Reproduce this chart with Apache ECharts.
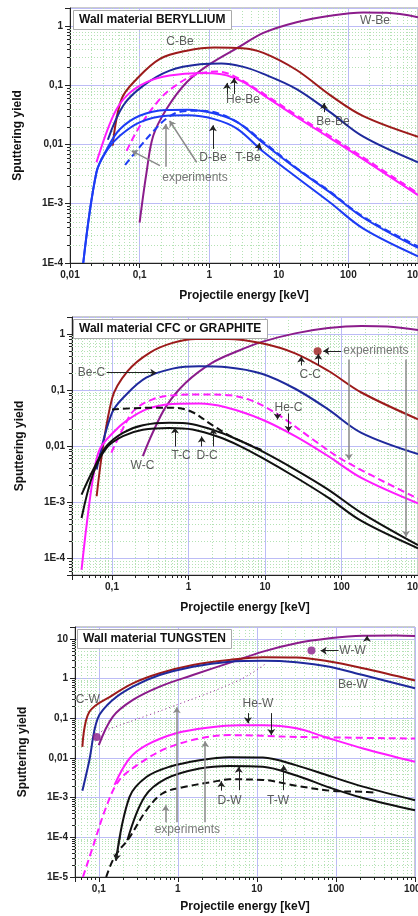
<!DOCTYPE html>
<html>
<head>
<meta charset="utf-8">
<script src="https://cdn.jsdelivr.net/npm/echarts@6/dist/echarts.min.js"></script>
<style>
  html, body { margin: 0; padding: 0; background: #fff; }
  #chart { width: 418px; height: 916px; }
</style>
</head>
<body>
<div id="chart"></div>
<script>
// all curves: [projectile energy keV, sputtering yield]

// --- wall material beryllium ---
var wBe = [[0.1,0.00048],[0.126,0.0034],[0.157,0.014],[0.245,0.04],[0.475,0.112],[1.03,0.228],[2.77,0.45],[6,0.76],[18,1.15],[54.5,1.48],[164,1.68],[355,1.66],[1000,1.4]];
var cBe = [[0.041,0.0095],[0.055,0.058],[0.091,0.127],[0.196,0.277],[0.475,0.38],[1.2,0.43],[3,0.42],[6,0.35],[18,0.18],[54.5,0.068],[164,0.03],[1000,0.0135]];
var beBe = [[0.035,0.012],[0.058,0.045],[0.113,0.098],[0.27,0.176],[0.74,0.225],[1.5,0.232],[3,0.205],[6,0.155],[18,0.086],[54.5,0.035],[164,0.0135],[1000,0.005]];
var heBe = [[0.024,0.005],[0.042,0.031],[0.065,0.066],[0.126,0.112],[0.27,0.145],[0.74,0.16],[1.5,0.152],[3,0.115],[6,0.068],[18,0.029],[54.5,0.0128],[164,0.0056],[1000,0.0014]];
var heBeExp = [[0.065,0.0078],[0.1,0.02],[0.2,0.06],[0.32,0.096],[0.59,0.145],[1.28,0.17],[2.2,0.145],[6,0.072],[18,0.031],[54.5,0.0138],[164,0.006],[1000,0.0015]];
var tBe = [[0.0155,0.0001],[0.024,0.0034],[0.034,0.0084],[0.052,0.018],[0.1,0.0305],[0.245,0.038],[0.5,0.0385],[1.15,0.0335],[2.5,0.024],[6,0.0105],[18,0.0039],[54.5,0.00155],[164,0.00058],[1000,0.00018]];
var dBe = [[0.0155,0.0001],[0.024,0.0034],[0.034,0.008],[0.052,0.014],[0.1,0.0236],[0.245,0.0305],[0.5,0.031],[1.15,0.027],[2.5,0.0185],[6,0.0075],[18,0.0028],[54.5,0.00105],[164,0.00038],[1000,0.00013]];
var tBeExp = [[0.062,0.0045],[0.1,0.009],[0.16,0.017],[0.25,0.028],[0.4,0.036],[0.8,0.037],[1.5,0.032],[3,0.021],[6,0.011],[18,0.004],[54.5,0.0016],[164,0.0006],[1000,0.00019]];

// --- wall material CFC / graphite ---
var wC = [[0.253,0.0066],[0.34,0.0172],[0.51,0.051],[0.92,0.134],[2.05,0.306],[4.5,0.5],[9.1,0.72],[24.8,1.02],[67,1.27],[182,1.38],[400,1.35],[1000,1.17]];
var cC = [[0.063,0.00127],[0.1,0.07],[0.16,0.217],[0.31,0.46],[0.62,0.69],[1.25,0.81],[3.2,0.81],[9.1,0.68],[24.8,0.45],[67,0.22],[182,0.09],[1000,0.03]];
var beC = [[0.063,0.0038],[0.1,0.039],[0.154,0.083],[0.28,0.165],[0.62,0.24],[1.38,0.265],[3.2,0.255],[9.1,0.195],[24.8,0.105],[67,0.045],[182,0.0172],[1000,0.0072]];
var heC = [[0.04,0.000062],[0.047,0.00043],[0.057,0.0029],[0.069,0.0087],[0.103,0.0172],[0.154,0.028],[0.28,0.045],[0.62,0.056],[1.38,0.057],[3.06,0.049],[9.1,0.0297],[24.8,0.015],[67,0.0066],[182,0.0027],[1000,0.00095]];
var heCExp = [[0.098,0.0076],[0.15,0.025],[0.2,0.045],[0.34,0.068],[0.62,0.08],[1.38,0.083],[3.5,0.08],[7,0.063],[15,0.036],[41,0.0135],[110,0.0054],[1000,0.00115]];
var tC = [[0.04,0.00136],[0.057,0.0038],[0.085,0.01],[0.139,0.0172],[0.253,0.0235],[0.56,0.026],[1.13,0.0245],[2.5,0.0178],[4.5,0.0128],[9.1,0.0081],[24.8,0.0038],[67,0.00167],[182,0.00064],[1000,0.00017]];
var dC = [[0.04,0.00052],[0.057,0.0033],[0.085,0.0093],[0.139,0.015],[0.253,0.0195],[0.56,0.021],[1.13,0.0197],[2.5,0.0145],[4.5,0.0103],[9.1,0.0062],[24.8,0.0028],[67,0.0012],[182,0.00046],[1000,0.00015]];
var dCExp = [[0.1,0.045],[0.3,0.048],[0.68,0.048],[1.13,0.04],[2.05,0.0235],[3.7,0.0145],[9,0.0085]];
var ccExp = [[48.7,0.49]];

// --- wall material tungsten ---
var wW = [[0.1,0.021],[0.15,0.109],[0.27,0.29],[0.59,0.63],[1.55,1.23],[4.5,2.5],[11.9,4.8],[31.6,7.8],[83,10.4],[220,12.1],[582,12.3],[1000,11.9]];
var wWFit = [[0.107,0.046],[0.95,0.215],[6,0.92],[13,2.4]];
var cW = [[0.062,0.019],[0.076,0.146],[0.15,0.385],[0.27,0.76],[0.59,1.36],[1.55,2.2],[4.5,2.95],[11.9,3.45],[31.6,3.4],[83,2.7],[220,1.82],[1000,0.9]];
var beW = [[0.062,0.0015],[0.076,0.0088],[0.097,0.1],[0.15,0.29],[0.27,0.63],[0.59,1.23],[1.55,2.0],[4.5,2.68],[11.9,2.83],[31.6,2.6],[83,2.0],[220,1.23],[1000,0.57]];
var heW = [[0.158,0.0021],[0.245,0.0097],[0.4,0.021],[0.95,0.042],[2.5,0.059],[6,0.067],[11.9,0.067],[31.6,0.056],[83,0.031],[220,0.0174],[1000,0.008]];
var heWExp = [[0.063,0.00001],[0.084,0.000057],[0.124,0.00058],[0.18,0.0027],[0.33,0.0073],[0.71,0.0174],[1.88,0.031],[4.5,0.0377],[31.6,0.034],[1000,0.031]];
var tW = [[0.165,0.000026],[0.245,0.00105],[0.4,0.0033],[0.785,0.006],[1.88,0.0088],[4.5,0.0105],[11.9,0.0103],[31.6,0.0065],[83,0.0035],[220,0.0019],[1000,0.00086]];
var dW = [[0.23,0.000084],[0.38,0.00105],[0.71,0.003],[1.88,0.0054],[4.5,0.0063],[11.9,0.006],[31.6,0.0036],[83,0.0018],[220,0.00098],[1000,0.00048]];
var dWExp = [[0.124,0.00001],[0.158,0.000032],[0.245,0.0001],[0.4,0.00048],[0.65,0.0013],[1.28,0.0019],[2.77,0.0025],[4.5,0.0029],[11.9,0.0028],[31.6,0.002],[83,0.0015],[220,0.0014],[300,0.00135]];
var wwExp = [[0.094,0.034],[49,5.1]];

// curve labels [text, energy, yield]
var p1Labels = [['W-Be',241,1.21],['C-Be',0.38,0.537],['He-Be',3.06,0.056],['Be-Be',60,0.024],['D-Be',1.13,0.0059],['T-Be',3.6,0.0059]];
var p2Labels = [['Be-C',0.054,0.203],['W-C',0.25,0.0045],['T-C',0.8,0.0066],['D-C',1.75,0.0066],['C-C',39,0.189],['He-C',20.3,0.048]];
var p3Labels = [['C-W',0.0726,0.30],['Be-W',164,0.69],['W-W',162,5.07],['He-W',10.3,0.229],['D-W',4.5,0.00083],['T-W',18.5,0.00083]];
var expLabels = [['experiments',0.625,0.0027],['experiments',282,0.493],['experiments',1.32,0.00016]];

// pointer arrows [[from],[to]]
var p1Arrows = [[[1.8,0.071],[1.8,0.109]],[[2.27,0.071],[2.27,0.132]],[[44.6,0.035],[44.6,0.05]],[[1.13,0.0084],[1.13,0.021]],[[5,0.0077],[5.3,0.0105]]];
var p1Exp = [[[0.66,0.005],[0.27,0.025]],[[0.196,0.0044],[0.077,0.0078]],[[0.237,0.0042],[0.237,0.0222]]];
var p2Arrows = [[[0.085,0.203],[0.38,0.203]],[[0.665,0.0098],[0.665,0.0214]],[[1.49,0.0098],[1.49,0.0148]],[[2.1,0.0098],[2.1,0.0205]],[[29.7,0.274],[29.7,0.396]],[[49.8,0.274],[49.8,0.44]],[[14.6,0.038],[14.6,0.0297]],[[20.3,0.038],[20.3,0.018]],[[99,0.493],[57.8,0.493]]];
var p2Exp = [[[125,0.35],[125,0.0057]],[[698,0.35],[698,0.00024]]];
var p3Arrows = [[[108,5.07],[64,5.07]],[[247,9.4],[247,12]],[[7.7,0.135],[7.7,0.075]],[[15.2,0.135],[15.2,0.0377]],[[5.9,0.00154],[5.9,0.006]],[[3.54,0.0015],[3.54,0.0026]],[[21.8,0.00154],[21.8,0.0066]],[[0.19,0.00012],[0.165,0.000026]]];
var p3Exp = [[[0.7,0.00024],[0.7,0.00064]],[[0.97,0.00024],[0.97,0.19]],[[2.22,0.00024],[2.22,0.0265]]];

var FONT = '"Liberation Sans", Arial, sans-serif';
var C = { c: '#9c1b1b', be: '#1f2a9c', he: '#ff1cff', w: '#8b1c8b', dt: '#1d3cf5', k: '#111', grey: '#8a8a8a', txt: '#333' };

var panels = [
  { title: 'Wall material BERYLLIUM', tpos: [73, 10], grid: { left: 70, top: 8, right: 0, height: 255 }, x: [0.01, 1000], y: [1e-4, 2], gap: 27 },
  { title: 'Wall material CFC or GRAPHITE', tpos: [73, 319], grid: { left: 72, top: 317, right: 0, height: 258 }, x: [0.03, 1000], y: [5e-5, 2], gap: 27 },
  { title: 'Wall material TUNGSTEN', tpos: [77, 629], grid: { left: 75, top: 627, right: 3, height: 250 }, x: [0.05, 1000], y: [1e-5, 20], gap: 24 }
];

function fmt(v) {
  var e = Math.log10(v), r = Math.round(e);
  if (Math.abs(e - r) > 1e-6) return '';
  if (r <= -3) return '1E' + r;
  if (r < 0) return '0,' + '0'.repeat(-r - 1) + '1';
  return String(Math.pow(10, r));
}

function minorValues(range) {
  var out = [];
  for (var n = Math.floor(Math.log10(range[0])); n <= Math.ceil(Math.log10(range[1])); n++) {
    for (var k = 2; k <= 9; k++) {
      var v = k * Math.pow(10, n);
      if (v > range[0] * 1.0001 && v < range[1] * 0.9999) out.push(v);
    }
  }
  return out;
}

// dotted minor grid + minor ticks, placed through the axes
function minorGrid(i) {
  var p = panels[i];
  return {
    type: 'custom', xAxisIndex: i, yAxisIndex: i, silent: true, clip: false, z: 1,
    data: [[p.x[0], p.y[0]]],
    renderItem: function (params, api) {
      var cs = params.coordSys, kids = [];
      var grid = { stroke: '#b4e2b4', lineWidth: 1, lineDash: [1, 2] };
      var tick = { stroke: '#222', lineWidth: 1 };
      minorValues(p.x).forEach(function (v) {
        var px = Math.round(api.coord([v, p.y[0]])[0]) + 0.5;
        kids.push({ type: 'line', shape: { x1: px, y1: cs.y, x2: px, y2: cs.y + cs.height }, style: grid });
        kids.push({ type: 'line', shape: { x1: px, y1: cs.y + cs.height, x2: px, y2: cs.y + cs.height + 3 }, style: tick });
      });
      minorValues(p.y).forEach(function (v) {
        var py = Math.round(api.coord([p.x[0], v])[1]) + 0.5;
        kids.push({ type: 'line', shape: { x1: cs.x, y1: py, x2: cs.x + cs.width, y2: py }, style: grid });
        kids.push({ type: 'line', shape: { x1: cs.x - 3, y1: py, x2: cs.x, y2: py }, style: tick });
      });
      return { type: 'group', children: kids };
    }
  };
}

function curve(i, data, color, dash, width) {
  return {
    type: 'line', xAxisIndex: i, yAxisIndex: i, data: data, symbol: 'none',
    smooth: 0.35, silent: true, z: 3,
    lineStyle: { color: color, width: width || 2, type: dash || 'solid' }
  };
}

function arrows(list, color, width) {
  return {
    silent: true, symbol: ['none', 'arrow'], symbolSize: 6, animation: false,
    label: { show: false },
    lineStyle: { color: color, width: width, type: 'solid' },
    emphasis: { disabled: true },
    data: list.map(function (a) { return [{ coord: a[0] }, { coord: a[1] }]; })
  };
}

function labels(i, list, color, arr, arrColor, arrWidth) {
  return {
    type: 'scatter', xAxisIndex: i, yAxisIndex: i, silent: true, z: 5,
    symbolSize: 1, itemStyle: { color: 'rgba(0,0,0,0)' },
    label: { show: true, position: 'inside', formatter: '{b}', color: color, fontSize: 12, fontFamily: FONT },
    data: list.map(function (l) { return { name: l[0], value: [l[1], l[2]] }; }),
    markLine: arrows(arr, arrColor, arrWidth)
  };
}

function dots(i, data, color) {
  return { type: 'scatter', xAxisIndex: i, yAxisIndex: i, silent: true, z: 4, symbolSize: 8, itemStyle: { color: color }, data: data };
}

var dash = [7, 4];
var series = [
  minorGrid(0), minorGrid(1), minorGrid(2),
  curve(0, wBe, C.w), curve(0, cBe, C.c), curve(0, beBe, C.be), curve(0, heBe, C.he), curve(0, heBeExp, C.he, dash),
  curve(0, tBe, C.dt), curve(0, dBe, C.dt), curve(0, tBeExp, C.dt, dash),
  curve(1, wC, C.w), curve(1, cC, C.c), curve(1, beC, C.be), curve(1, heC, C.he), curve(1, heCExp, C.he, dash),
  curve(1, tC, C.k), curve(1, dC, C.k), curve(1, dCExp, C.k, dash),
  curve(2, wW, C.w), curve(2, wWFit, C.w, [1, 3], 1), curve(2, cW, C.c), curve(2, beW, C.be), curve(2, heW, C.he), curve(2, heWExp, C.he, dash),
  curve(2, tW, C.k), curve(2, dW, C.k), curve(2, dWExp, C.k, dash),
  dots(1, ccExp, C.c), dots(2, wwExp, C.w),
  labels(0, p1Labels, C.txt, p1Arrows, '#222', 1),
  labels(1, p2Labels, C.txt, p2Arrows, '#222', 1),
  labels(2, p3Labels, C.txt, p3Arrows, '#222', 1),
  labels(0, [expLabels[0]], '#555', p1Exp, C.grey, 1.5),
  labels(1, [expLabels[1]], '#555', p2Exp, C.grey, 1.5),
  labels(2, [expLabels[2]], '#555', p3Exp, C.grey, 1.5)
];

var chart = echarts.init(document.getElementById('chart'));
chart.setOption({
  animation: false,
  backgroundColor: '#fff',
  textStyle: { fontFamily: FONT },
  title: panels.map(function (p) {
    return {
      text: p.title, left: p.tpos[0], top: p.tpos[1], padding: [4, 6],
      borderColor: '#aaa', borderWidth: 1, backgroundColor: '#fff', z: 10,
      textStyle: { fontSize: 12, fontWeight: 'bold', color: '#111', fontFamily: FONT }
    };
  }),
  grid: panels.map(function (p) {
    return Object.assign({ show: true, borderColor: '#999', borderWidth: 1, backgroundColor: '#fff', outerBoundsMode: 'none', containLabel: false }, p.grid);
  }),
  xAxis: panels.map(function (p, i) {
    return {
      type: 'log', logBase: 10, gridIndex: i, min: p.x[0], max: p.x[1],
      name: 'Projectile energy [keV]', nameLocation: 'middle', nameGap: p.gap,
      nameTextStyle: { fontSize: 12, fontWeight: 'bold', color: '#111', fontFamily: FONT },
      axisLine: { lineStyle: { color: '#222' } },
      axisTick: { length: 5, lineStyle: { color: '#222' } },
      axisLabel: { formatter: fmt, fontSize: 10, fontWeight: 'bold', color: '#222', margin: 7, fontFamily: FONT },
      splitLine: { show: true, lineStyle: { color: '#bcbcf6', width: 1 } }
    };
  }),
  yAxis: panels.map(function (p, i) {
    return {
      type: 'log', logBase: 10, gridIndex: i, min: p.y[0], max: p.y[1],
      name: 'Sputtering yield', nameLocation: 'middle', nameGap: 46, nameRotate: 90,
      nameTextStyle: { fontSize: 12, fontWeight: 'bold', color: '#111', fontFamily: FONT },
      axisLine: { show: true, lineStyle: { color: '#222' } },
      axisTick: { length: 5, lineStyle: { color: '#222' } },
      axisLabel: { formatter: fmt, fontSize: 10, fontWeight: 'bold', color: '#222', margin: 7, fontFamily: FONT },
      splitLine: { show: true, lineStyle: { color: '#bcbcf6', width: 1 } }
    };
  }),
  series: series
});
window.addEventListener('resize', function () { chart.resize(); });
</script>
</body>
</html>
